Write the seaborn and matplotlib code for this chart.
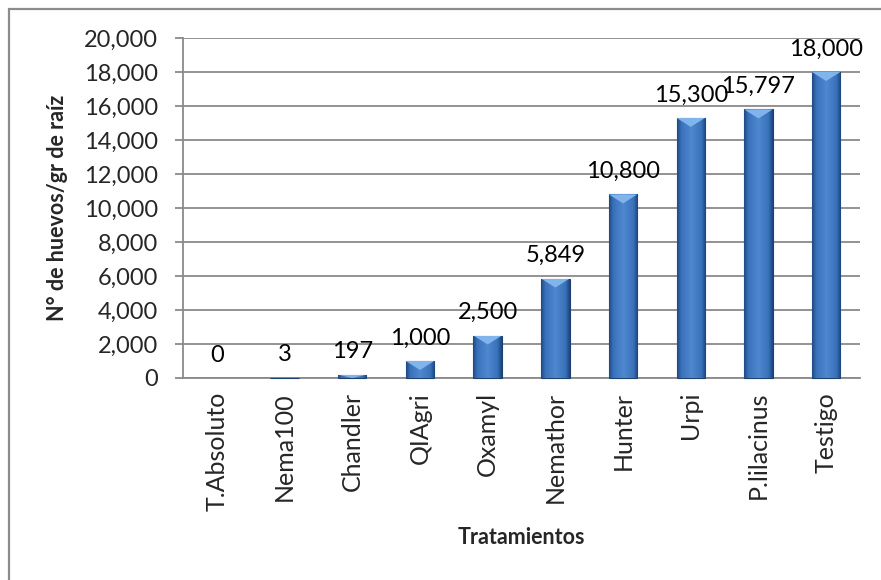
import numpy as np
import matplotlib
matplotlib.use("Agg")
import matplotlib.pyplot as plt
import matplotlib.patches as mpatches
from matplotlib.colors import LinearSegmentedColormap
from matplotlib.ticker import FuncFormatter, MultipleLocator
import seaborn as sns

categories = ["T.Absoluto", "Nema100", "Chandler", "QIAgri", "Oxamyl",
              "Nemathor", "Hunter", "Urpi", "P.lilacinus", "Testigo"]
values = [0, 3, 197, 1000, 2500, 5849, 10800, 15300, 15797, 18000]
x_label = "Tratamientos"
y_label = "N° de huevos/gr de raíz"

sns.set_theme(style="white")
plt.rcParams["font.family"] = ["Lato", "DejaVu Sans"]

fig = plt.figure(figsize=(8.81, 5.80), dpi=100)
ax = fig.add_axes([183/881, 1-378/580, (860-183)/881, 340/580])

sns.barplot(x=categories, y=values, color="#3b73bd", width=0.42, ax=ax,
            edgecolor="#1d416f", linewidth=0.8, zorder=3)

cmap = LinearSegmentedColormap.from_list(
    "bar", [(0, "#1f4a85"), (0.15, "#3a72bb"), (0.5, "#4f88cf"),
            (0.85, "#3a72bb"), (1, "#1c4580")])
grad = np.linspace(0, 1, 64).reshape(1, -1)
px_to_data = 20000 / 340
for p in list(ax.patches):
    x0, w, h = p.get_x(), p.get_width(), p.get_height()
    if h <= 0:
        p.set_linewidth(0)
        p.set_visible(False)
        continue
    p.set_clip_on(False)
    im = ax.imshow(grad, cmap=cmap, extent=[x0, x0 + w, 0, h],
                   aspect="auto", zorder=3.5, interpolation="bilinear")
    im.set_clip_path(p)
    depth = min(9 * px_to_data, h)
    tri = mpatches.Polygon([(x0, h), (x0 + w, h), (x0 + w / 2, h - depth)],
                           closed=True, facecolor="#80b4ea", edgecolor="none",
                           zorder=3.6)
    ax.add_patch(tri)
    tri.set_clip_path(p)

ax.bar_label(ax.containers[0], labels=[f"{v:,}" for v in values],
             padding=9, fontsize=17, color="black")

ax.set_xlim(-0.5, len(categories) - 0.5)
ax.set_ylim(0, 20000)
ax.yaxis.set_major_locator(MultipleLocator(2000))
ax.yaxis.set_major_formatter(FuncFormatter(lambda v, _: f"{int(v):,}"))
ax.grid(axis="y", color="#8a8a8a", linewidth=1.3, zorder=0)
ax.set_axisbelow(True)

for s in ["top", "right"]:
    ax.spines[s].set_visible(False)
for s in ["left", "bottom"]:
    ax.spines[s].set_color("#8a8a8a")
    ax.spines[s].set_linewidth(1.3)

ax.tick_params(axis="y", which="major", length=6, width=1.3, color="#8a8a8a",
               pad=12, labelsize=17, left=True)
ax.tick_params(axis="x", length=0, pad=10, labelsize=18, rotation=90)
for t in ax.get_xticklabels():
    t.set_va("top")

ax.set_xlabel(x_label, fontsize=15.5, fontweight="bold")
ax.set_ylabel(y_label, fontsize=15.5, fontweight="bold")
ax.xaxis.set_label_coords(0.5, (378 - 537) / 340)
ax.xaxis.label.set_va("center")
ax.yaxis.set_label_coords((58 - 183) / 677, 0.5)
ax.yaxis.label.set_va("center")

border = mpatches.Rectangle((9/881, -0.1), 1.2, 1 - 9/580 + 0.1,
                            transform=fig.transFigure, fill=False,
                            edgecolor="#8c8c8c", linewidth=1.6, zorder=10)
fig.patches.append(border)

fig.savefig("out.png", dpi=100, facecolor="white")
